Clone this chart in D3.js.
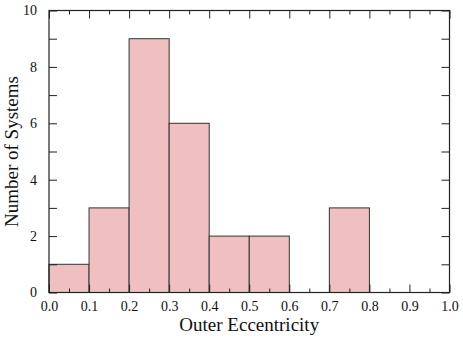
<!DOCTYPE html>
<html>
<head>
<meta charset="utf-8">
<script src="https://cdn.jsdelivr.net/npm/d3@7"></script>
<style>
  body { margin: 0; background: #fff; }
  text { font-family: "Liberation Serif", "DejaVu Serif", serif; fill: #111; }
</style>
</head>
<body>
<div id="chart"></div>
<script>
const binStarts = [0.0, 0.1, 0.2, 0.3, 0.4, 0.5, 0.6, 0.7, 0.8, 0.9];
const counts = [1, 3, 9, 6, 2, 2, 0, 3, 0, 0];
const xTickLabels = ["0.0", "0.1", "0.2", "0.3", "0.4", "0.5", "0.6", "0.7", "0.8", "0.9", "1.0"];
const yTickValues = [0, 2, 4, 6, 8, 10];

const width = 463, height = 339;
const m = { left: 49, right: 13.5, top: 10.5, bottom: 46.5 };

const svg = d3.select("#chart").append("svg").attr("width", width).attr("height", height);
const x = d3.scaleLinear().domain([0, 1]).range([m.left, width - m.right]);
const y = d3.scaleLinear().domain([0, 10]).range([height - m.bottom, m.top]);

// bars
svg.append("g").selectAll("rect").data(binStarts.map((s, i) => ({ s, c: counts[i] })).filter(d => d.c > 0))
  .join("rect")
  .attr("x", d => x(d.s))
  .attr("y", d => y(d.c))
  .attr("width", d => x(d.s + 0.1) - x(d.s))
  .attr("height", d => y(0) - y(d.c))
  .attr("fill", "#f0c0c0")
  .attr("stroke", "#333")
  .attr("stroke-width", 1);

// frame ticks, pointing inward
const xMajor = d3.range(0, 11).map(i => i / 10);
const xMinor = d3.range(0, 10).map(i => i / 10 + 0.05);
const yAll = d3.range(0, 11);

svg.append("g").attr("transform", `translate(0,${y(0)})`)
  .call(d3.axisBottom(x).tickValues(xMajor).tickSize(-8).tickFormat((d, i) => xTickLabels[i]).tickPadding(9));
svg.append("g").attr("transform", `translate(0,${y(10)})`)
  .call(d3.axisTop(x).tickValues(xMajor).tickSize(-8).tickFormat(""));
svg.append("g").attr("transform", `translate(0,${y(0)})`)
  .call(d3.axisBottom(x).tickValues(xMinor).tickSize(-4).tickFormat(""));
svg.append("g").attr("transform", `translate(0,${y(10)})`)
  .call(d3.axisTop(x).tickValues(xMinor).tickSize(-4).tickFormat(""));
svg.append("g").attr("transform", `translate(${x(0)},0)`)
  .call(d3.axisLeft(y).tickValues(yAll).tickSize(-8).tickFormat(d => yTickValues.includes(d) ? d : "").tickPadding(12));
svg.append("g").attr("transform", `translate(${x(1)},0)`)
  .call(d3.axisRight(y).tickValues(yAll).tickSize(-8).tickFormat(""));

svg.selectAll(".domain").remove();
svg.selectAll("g").attr("font-size", null).attr("font-family", null);
svg.selectAll(".tick line").attr("stroke", "#222").attr("stroke-width", 1);
svg.selectAll(".tick text").style("font-size", "14px").attr("fill", "#111");

svg.append("rect")
  .attr("x", x(0)).attr("y", y(10))
  .attr("width", x(1) - x(0)).attr("height", y(0) - y(10))
  .attr("fill", "none").attr("stroke", "#222").attr("stroke-width", 1.2);

svg.append("text")
  .attr("x", (x(0) + x(1)) / 2).attr("y", 331)
  .attr("text-anchor", "middle").style("font-size", "19px")
  .text("Outer Eccentricity");

svg.append("text")
  .attr("transform", `translate(17.5,${(y(0) + y(10)) / 2}) rotate(-90)`)
  .attr("text-anchor", "middle").style("font-size", "19px")
  .text("Number of Systems");
</script>
</body>
</html>
